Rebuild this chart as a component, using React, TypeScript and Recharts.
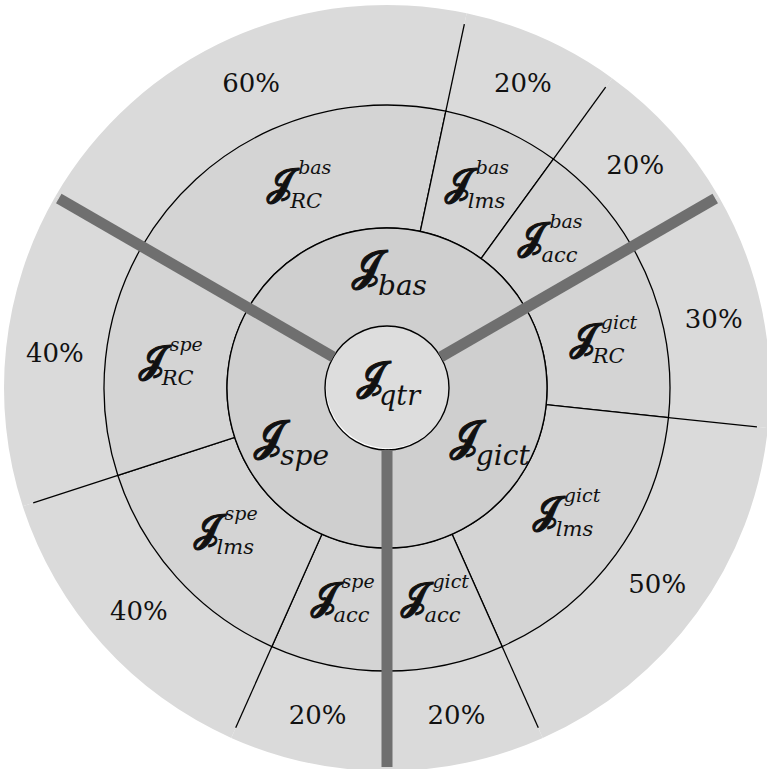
import React from 'react'
import { PieChart, Pie } from 'recharts'

// sunburst: qtr -> 3 groups -> 3 parts each, outer ring = share of each part
const centerName = 'qtr'
const groups = ['bas', 'gict', 'spe']
const groupShares = [100, 100, 100]
const parts = ['RC', 'lms', 'acc', 'RC', 'lms', 'acc', 'acc', 'lms', 'RC']
const partGroups = ['bas', 'bas', 'bas', 'gict', 'gict', 'gict', 'spe', 'spe', 'spe']
const partShares = [60, 20, 20, 30, 50, 20, 20, 40, 40]

const centerData = [{ name: centerName, value: 1 }]
const groupData = groups.map((g, i) => ({ name: g, value: groupShares[i] }))
const partData = parts.map((p, i) => ({ name: p, group: partGroups[i], value: partShares[i] }))

const CX = 387
const CY = 388
const R0 = 62
const R1 = 160
const R2 = 283
const R3 = 383
const START = 150
const END = -210

const J = '\u{1D4D9}'
const RAD = Math.PI / 180
const serif = '"DejaVu Serif", "Liberation Serif", serif'
const ink = '#111111'

function polar(cx: number, cy: number, r: number, angle: number) {
  return { x: cx + r * Math.cos(-angle * RAD), y: cy + r * Math.sin(-angle * RAD) }
}

// the script J is thin in the installed fonts, so thicken it a little with a stroke
const Jglyph = ({ x, y, size }: { x: number; y: number; size: number }) => (
  <text x={x} y={y} fontSize={size} fill={ink} stroke={ink} strokeWidth={1.1} strokeLinejoin="round"
    fontFamily={serif}>{J}</text>
)

const CenterLabel = (props: any) => {
  const { cx, cy } = props
  return (
    <g transform={`translate(${cx + 2},${cy - 3})`}>
      <Jglyph x={-33} y={5} size={40} />
      <text x={-10} y={20} fontSize={27} fill={ink} fontFamily={serif} fontStyle="italic">{centerName}</text>
    </g>
  )
}

const GroupLabel = (props: any) => {
  const { cx, cy, midAngle, innerRadius, outerRadius, name } = props
  const p = polar(cx, cy, (innerRadius + outerRadius) / 2 + 2, midAngle)
  return (
    <g transform={`translate(${p.x},${p.y})`}>
      <Jglyph x={-36} y={6} size={42} />
      <text x={-9} y={20} fontSize={28} fill={ink} fontFamily={serif} fontStyle="italic">{name}</text>
    </g>
  )
}

const PartLabel = (props: any) => {
  const { cx, cy, midAngle, innerRadius, outerRadius, name, payload } = props
  const group = payload?.group ?? props.group
  const p = polar(cx, cy, (innerRadius + outerRadius) / 2 - 3, midAngle)
  return (
    <g transform={`translate(${p.x},${p.y})`}>
      <Jglyph x={-32} y={7} size={38} />
      <text x={0} y={-14} fontSize={19} fill={ink} fontFamily={serif} fontStyle="italic">{group}</text>
      <text x={-8} y={20} fontSize={21} fill={ink} fontFamily={serif} fontStyle="italic">{name}</text>
    </g>
  )
}

// outer ring: percentage text + thin divider that stops short of the rim
const ShareLabel = (props: any) => {
  const { cx, cy, midAngle, startAngle, innerRadius, outerRadius, value } = props
  const p = polar(cx, cy, 334, midAngle)
  const a = polar(cx, cy, innerRadius, startAngle)
  const b = polar(cx, cy, outerRadius - 11, startAngle)
  return (
    <g>
      <line x1={a.x} y1={a.y} x2={b.x} y2={b.y} stroke="#000" strokeWidth={1.3} />
      <text x={p.x} y={p.y} textAnchor="middle" dominantBaseline="central" fontSize={26} fill={ink} fontFamily={serif}>
        {value}%
      </text>
    </g>
  )
}

// thick grey separators between the three groups
const Divider = (props: any) => {
  const { cx, cy, startAngle } = props
  const a = polar(cx, cy, R0, startAngle)
  const b = polar(cx, cy, R3 - 4, startAngle)
  return <line x1={a.x} y1={a.y} x2={b.x} y2={b.y} stroke="#6f6f6f" strokeWidth={11} />
}

export default function App() {
  return (
    <div style={{ position: 'absolute', left: 0, top: 0, width: 767, height: 769, background: '#fff' }}>
      <PieChart width={767} height={769} margin={{ top: 0, right: 0, bottom: 0, left: 0 }}>
        <Pie data={partData} dataKey="value" cx={CX} cy={CY} innerRadius={R2} outerRadius={R3}
          startAngle={START} endAngle={END} fill="#dadada" stroke="none"
          label={ShareLabel} labelLine={false} isAnimationActive={false} />
        <Pie data={partData} dataKey="value" cx={CX} cy={CY} innerRadius={R1} outerRadius={R2}
          startAngle={START} endAngle={END} fill="#d4d4d4" stroke="#000" strokeWidth={1.3}
          label={PartLabel} labelLine={false} isAnimationActive={false} />
        <Pie data={centerData} dataKey="value" cx={CX} cy={CY} innerRadius={0} outerRadius={R0}
          startAngle={START} endAngle={END} fill="#dddddd" stroke="none"
          label={CenterLabel} labelLine={false} isAnimationActive={false} />
        <Pie data={groupData} dataKey="value" cx={CX} cy={CY} innerRadius={R0} outerRadius={R1}
          startAngle={START} endAngle={END} fill="#cfcfcf" stroke="#000" strokeWidth={1.4}
          label={GroupLabel} labelLine={false} isAnimationActive={false} />
        <Pie data={groupData} dataKey="value" cx={CX} cy={CY} innerRadius={R0} outerRadius={R3}
          startAngle={START} endAngle={END} fill="none" stroke="none"
          label={Divider} labelLine={false} isAnimationActive={false} />
      </PieChart>
    </div>
  )
}
